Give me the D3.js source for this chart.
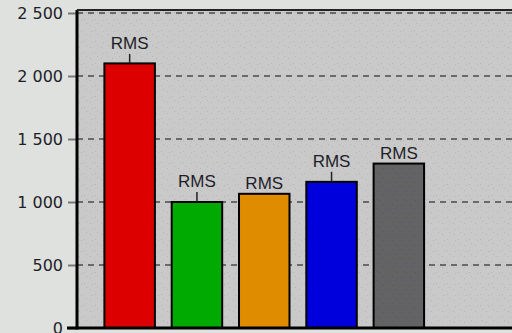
<!DOCTYPE html>
<html>
<head>
<meta charset="utf-8">
<script src="https://cdn.jsdelivr.net/npm/d3@7"></script>
<style>
  body { margin: 0; background: #dfe1df; }
  svg { display: block; }
</style>
</head>
<body>
<div id="chart"></div>
<script>
(function (d3) {
  'use strict';

  // data
  const categories = ["A", "B", "C", "D", "E"];
  const values = [2100, 1000, 1065, 1160, 1305];
  const errors = [75, 80, 0, 80, 0];
  const labels = ["RMS", "RMS", "RMS", "RMS", "RMS"];
  const colors = ["#dd0000", "#00aa00", "#e08c00", "#0000dd", "#636363"];
  const yTicks = [0, 500, 1000, 1500, 2000, 2500];

  const W = 512, H = 333;
  const plot = {left: 77, top: 10, bottom: 328, right: 520};

  const svg = d3.select("#chart").append("svg")
    .attr("width", W)
    .attr("height", H);

  // speckled fill like the original
  const defs = svg.append("defs");
  const pat = defs.append("pattern")
    .attr("id", "speck")
    .attr("width", 11).attr("height", 11)
    .attr("patternUnits", "userSpaceOnUse");
  pat.append("rect").attr("width", 11).attr("height", 11).attr("fill", "#c9c9c9");
  [[2, 3], [7, 8], [9, 1], [4, 9]].forEach(p => {
    pat.append("rect").attr("x", p[0]).attr("y", p[1]).attr("width", 1).attr("height", 1).attr("fill", "#b6b6b6");
  });
  const pat2 = defs.append("pattern")
    .attr("id", "speckDark")
    .attr("width", 9).attr("height", 9)
    .attr("patternUnits", "userSpaceOnUse");
  pat2.append("rect").attr("width", 9).attr("height", 9).attr("fill", "#636363");
  [[1, 2], [5, 6], [7, 1]].forEach(p => {
    pat2.append("rect").attr("x", p[0]).attr("y", p[1]).attr("width", 1).attr("height", 1).attr("fill", "#555577");
  });

  const y = d3.scaleLinear()
    .domain([0, 2500])
    .range([plot.bottom, 13]);

  const x = d3.scaleBand()
    .domain(categories)
    .range([96, 432.5])
    .paddingInner(0.25)
    .paddingOuter(0.125);

  // plot background
  svg.append("rect")
    .attr("x", plot.left)
    .attr("y", plot.top)
    .attr("width", plot.right - plot.left)
    .attr("height", plot.bottom - plot.top)
    .attr("fill", "url(#speck)");

  // grid lines
  svg.append("g")
    .selectAll("line")
    .data(yTicks.filter(t => t > 0))
    .join("line")
      .attr("x1", plot.left)
      .attr("x2", W)
      .attr("y1", d => y(d))
      .attr("y2", d => y(d))
      .attr("stroke", "#6a6a6a")
      .attr("stroke-width", 2)
      .attr("stroke-dasharray", "6,5");

  // y axis
  const yAxis = svg.append("g")
    .attr("transform", `translate(${plot.left - 1},0)`)
    .call(d3.axisLeft(y)
      .tickValues(yTicks)
      .tickSize(8)
      .tickPadding(5)
      .tickFormat(d => d3.format(",")(d).replace(",", " ")));
  yAxis.select(".domain").remove();
  yAxis.selectAll(".tick line").attr("stroke", "#777").attr("stroke-width", 2);
  yAxis.selectAll(".tick text")
    .attr("fill", "#1e1e28")
    .style("font-family", "'DejaVu Sans', sans-serif")
    .style("font-size", "16px");

  // bars
  svg.append("g")
    .selectAll("rect")
    .data(values)
    .join("rect")
      .attr("x", (d, i) => x(categories[i]))
      .attr("y", d => y(d))
      .attr("width", x.bandwidth())
      .attr("height", d => y(0) - y(d))
      .attr("fill", (d, i) => i === 4 ? "url(#speckDark)" : colors[i])
      .attr("stroke", "#000")
      .attr("stroke-width", 2);

  // whiskers
  svg.append("g")
    .selectAll("line")
    .data(values)
    .join("line")
      .attr("x1", (d, i) => x(categories[i]) + x.bandwidth() / 2)
      .attr("x2", (d, i) => x(categories[i]) + x.bandwidth() / 2)
      .attr("y1", d => y(d))
      .attr("y2", (d, i) => y(d + errors[i]))
      .attr("stroke", "#222")
      .attr("stroke-width", 1.5);

  // labels
  svg.append("g")
    .selectAll("text")
    .data(values)
    .join("text")
      .attr("x", (d, i) => x(categories[i]) + x.bandwidth() / 2)
      .attr("y", (d, i) => y(d + errors[i]) - 5)
      .attr("text-anchor", "middle")
      .attr("fill", "#1e1e28")
      .style("font-family", "'Liberation Sans', Arial, sans-serif")
      .style("font-size", "17px")
      .text((d, i) => labels[i]);

  // frame: left, bottom, top
  svg.append("line")
    .attr("x1", plot.left).attr("x2", plot.left)
    .attr("y1", plot.top).attr("y2", plot.bottom + 1.5)
    .attr("stroke", "#000").attr("stroke-width", 3);
  svg.append("line")
    .attr("x1", plot.left - 10).attr("x2", W)
    .attr("y1", plot.bottom).attr("y2", plot.bottom)
    .attr("stroke", "#000").attr("stroke-width", 3);
  svg.append("line")
    .attr("x1", plot.left).attr("x2", W)
    .attr("y1", plot.top).attr("y2", plot.top)
    .attr("stroke", "#222").attr("stroke-width", 2);

}(d3));
</script>
</body>
</html>
